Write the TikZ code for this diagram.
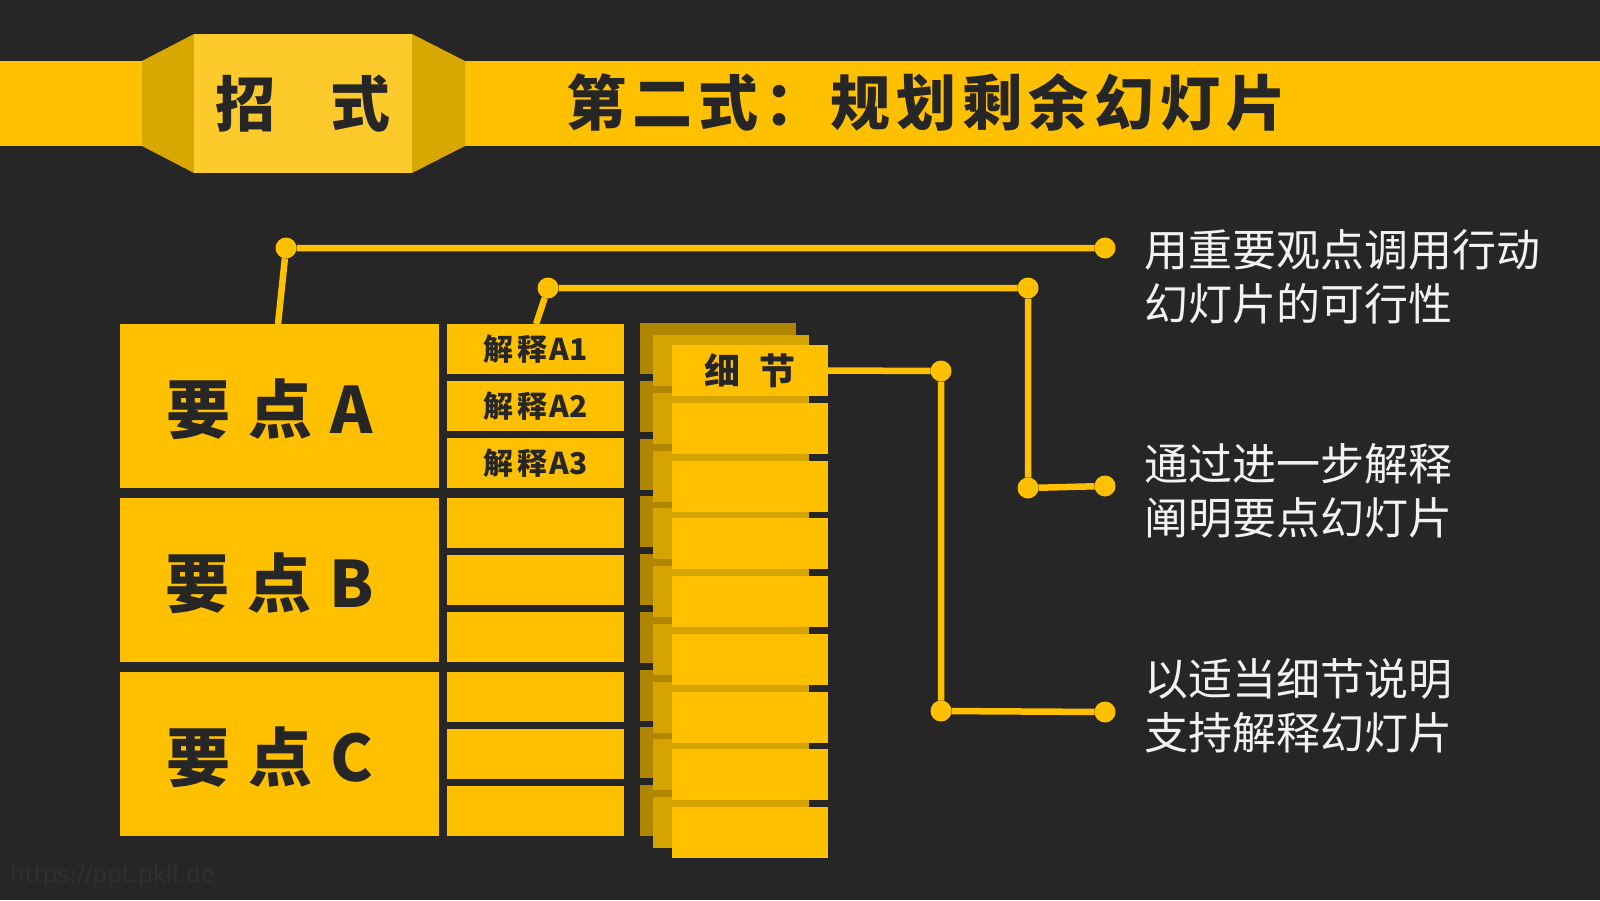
\documentclass[tikz,border=0pt]{standalone}
\usepackage{fontspec}
\setmainfont{Noto Sans CJK SC}
\newfontfamily\cjk{Noto Sans CJK SC}
\newfontfamily\wmfont{DejaVu Sans}
\newcommand\kk[1]{\hspace{#1pt}}
\newcommand\padr{\rule{20pt}{0pt}}
\definecolor{bg}{HTML}{262626}
\definecolor{gold}{HTML}{FFC000}
\definecolor{goldmid}{HTML}{D6A400}
\definecolor{golddark}{HTML}{B08600}
\definecolor{goldlight}{HTML}{FDCA2C}
\definecolor{goldside}{HTML}{D8A700}
\definecolor{ink}{HTML}{262626}
\definecolor{wm}{HTML}{303030}
\definecolor{paper}{HTML}{F2F2F2}
\begin{document}
\begin{tikzpicture}[x=1pt,y=-1pt,
  box/.style={fill=gold, inner sep=0, outer sep=0, anchor=north west, text=ink},
  conn/.style={draw=gold, line width=6.5pt},
  dot/.style={circle, fill=gold, minimum size=21pt, inner sep=0, outer sep=0},
  note/.style={anchor=west, align=left, text=paper, font=\cjk\fontsize{44}{54}\selectfont, inner sep=0},
  bigtxt/.style={font=\cjk\bfseries\fontsize{64}{64}\selectfont, text depth=-12pt},
  smalltxt/.style={font=\cjk\bfseries\fontsize{30}{30}\selectfont},
]
% background and bounding box
\fill[bg] (0,0) rectangle (1600,900);
\useasboundingbox (0,0) rectangle (1600,900);

% title band
\fill[gold] (0,61) rectangle (1600,146);
% hexagon badge
\fill[goldside] (142,61) -- (194,34) -- (194,173) -- (142,146) -- cycle;
\fill[goldside] (412,34) -- (465,61) -- (465,146) -- (412,173) -- cycle;
\node[fill=goldlight, inner sep=0, minimum width=218, minimum height=139, text=ink,
      font=\cjk\bfseries\fontsize{60}{60}\selectfont] (badge) at (303,103.5) {招\kk{56}式};
\node[text=ink, inner sep=0, font=\cjk\bfseries\fontsize{60}{60}\selectfont] (title) at (926,103)
  {第\kk6二\kk6式\kk6：\kk6规\kk6划\kk6剩\kk6余\kk6幻\kk6灯\kk6片};

% main points
\node[box, minimum width=319, minimum height=164, bigtxt] (A) at (120,324) {要\kk{18}点\kk{18}A\padr};
\node[box, minimum width=319, minimum height=164, bigtxt] (B) at (120,498) {要\kk{18}点\kk{18}B\padr};
\node[box, minimum width=319, minimum height=164, bigtxt] (C) at (120,672) {要\kk{18}点\kk{18}C\padr};

% explanations
\node[box, minimum width=177, minimum height=50, smalltxt] (A1) at (447,324) {解\kk4释\kk2A1};
\node[box, minimum width=177, minimum height=50, smalltxt] (A2) at (447,381) {解\kk4释\kk2A2};
\node[box, minimum width=177, minimum height=50, smalltxt] (A3) at (447,438) {解\kk4释\kk2A3};
\node[box, minimum width=177, minimum height=50] (B1) at (447,498) {};
\node[box, minimum width=177, minimum height=50] (B2) at (447,555) {};
\node[box, minimum width=177, minimum height=50] (B3) at (447,612) {};
\node[box, minimum width=177, minimum height=50] (C1) at (447,672) {};
\node[box, minimum width=177, minimum height=50] (C2) at (447,729) {};
\node[box, minimum width=177, minimum height=50] (C3) at (447,786) {};

% details stack: back, middle, front layers
\foreach \i in {0,...,8} {
  \node[box, fill=golddark, minimum width=156, minimum height=51] (k\i) at (640,323+\i*57.75) {};
}
\foreach \i in {0,...,8} {
  \node[box, fill=goldmid, minimum width=156, minimum height=51] (m\i) at (653,335+\i*57.75) {};
}
\node[box, minimum width=156, minimum height=51, font=\cjk\bfseries\fontsize{36}{36}\selectfont] (f0) at (672,345) {细\kk{20}节};
\foreach \i in {1,...,8} {
  \node[box, minimum width=156, minimum height=51] (f\i) at (672,345+\i*57.75) {};
}

% connector 1
\coordinate (a1) at (278,324);
\node[dot] (d1) at (286,248) {};
\node[dot] (d2) at (1105,248) {};
\draw[conn] (a1) -- (d1) -- (d2);

% connector 2
\coordinate (a2) at (536,324);
\node[dot] (d3) at (548,288) {};
\node[dot] (d4) at (1028,288) {};
\node[dot] (d5) at (1028,488) {};
\node[dot] (d6) at (1105,486) {};
\draw[conn] (a2) -- (d3) -- (d4) -- (d5) -- (d6);

% connector 3
\node[dot] (d7) at (941,371) {};
\node[dot] (d8) at (941,711) {};
\node[dot] (d9) at (1105,712) {};
\draw[conn] (f0.east) -- (d7) -- (d8) -- (d9);

% notes
\node[note] (t1) at (1144,277) {用重要观点调用行动\\幻灯片的可行性};
\node[note] (t2) at (1144,491) {通过进一步解释\\阐明要点幻灯片};
\node[note] (t3) at (1144,706) {以适当细节说明\\支持解释幻灯片};

% watermark
\node[anchor=west, inner sep=0, text=wm, font=\wmfont\fontsize{23}{23}\selectfont] (wmk) at (10,876) {https://ppt.pkll.de};
\end{tikzpicture}
\end{document}
